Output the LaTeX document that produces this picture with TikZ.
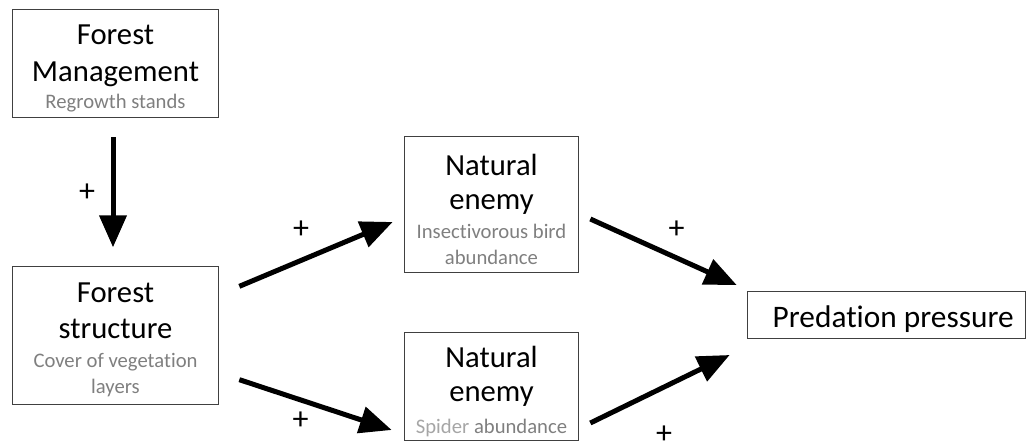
\documentclass[tikz,border=0pt]{standalone}
\usepackage{fontspec}
\setmainfont{Carlito}[Ligatures=NoCommon]
\usetikzlibrary{arrows.meta,positioning}
\definecolor{subgray}{HTML}{7F7F7F}
\definecolor{lightgray}{HTML}{A6A6A6}
\newcommand{\ttl}{\fontsize{23}{27}\selectfont}
\newcommand{\subf}{\fontsize{15.5}{19.5}\selectfont\color{subgray}}

\begin{document}
\begin{tikzpicture}[x=0.75pt,y=-0.75pt,
  box/.style={draw=black!75, line width=0.75pt, inner sep=0pt},
  txt/.style={align=center, font=\ttl, inner sep=0pt, yshift=-3.4pt},
  arr/.style={line width=3.75pt, -{Triangle[width=20pt,length=24pt]}},
  plus/.style={font=\fontsize{24}{24}\selectfont}]
  \useasboundingbox (0,0) rectangle (1029,445);
  \node[box, minimum width=155pt, minimum height=81pt] (fm) at (115.5,64) {};
  \node[txt] (fm-text) at (fm) {Forest\\[1pt] Management\\[-7pt] \subf Regrowth stands};
  \node[box, minimum width=155pt, minimum height=103pt] (fs) at (115.5,335.5) {};
  \node[txt] (fs-text) at (fs)
    {Forest\\ structure\\[-5.5pt] \subf Cover of vegetation\\[-7.5pt] \subf layers};
  \node[box, minimum width=131pt, minimum height=102pt] (bird) at (491.5,205) {};
  \node[txt] (bird-text) at (bird)
    {Natural\\[-1.5pt] enemy\\[-5.5pt] \subf Insectivorous bird\\[-7.5pt] \subf abundance};
  \node[box, minimum width=131pt, minimum height=81pt] (spider) at (491.5,387) {};
  \node[txt] (spider-text) at (spider)
    {Natural\\[-1pt] enemy\\[-3pt] \subf \textcolor{lightgray}{Spider} abundance};
  \node[box, minimum width=209pt, minimum height=35pt] (pred) at (886.5,315) {};
  \node[txt, font=\fontsize{23.5}{27}\selectfont, xshift=5pt] (pred-text) at (pred)
    {Predation pressure};
  \draw[arr] ([shift={(-2.5,19)}]fm.south) -- ([shift={(-2.5,-19)}]fs.north)
    node[plus, midway, shift={(-26,0)}] {+};
  \draw[arr] ([shift={(20,20)}]fs.north east) -- ([shift={(-11,17)}]bird.west)
    node[plus, midway, shift={(-15,-24)}] {+};
  \draw[arr] ([shift={(20,-25)}]fs.south east) -- ([shift={(-12,43)}]spider.west)
    node[plus, midway, shift={(-15,16)}] {+};
  \draw[arr] ([shift={(11,14)}]bird.east) -- ([shift={(-10,-30)}]pred.west)
    node[plus, midway, shift={(13,-22)}] {+};
  \draw[arr] ([shift={(11,36)}]spider.east) -- ([shift={(-17,40)}]pred.west)
    node[plus, midway, shift={(4,46)}] {+};
\end{tikzpicture}
\end{document}
